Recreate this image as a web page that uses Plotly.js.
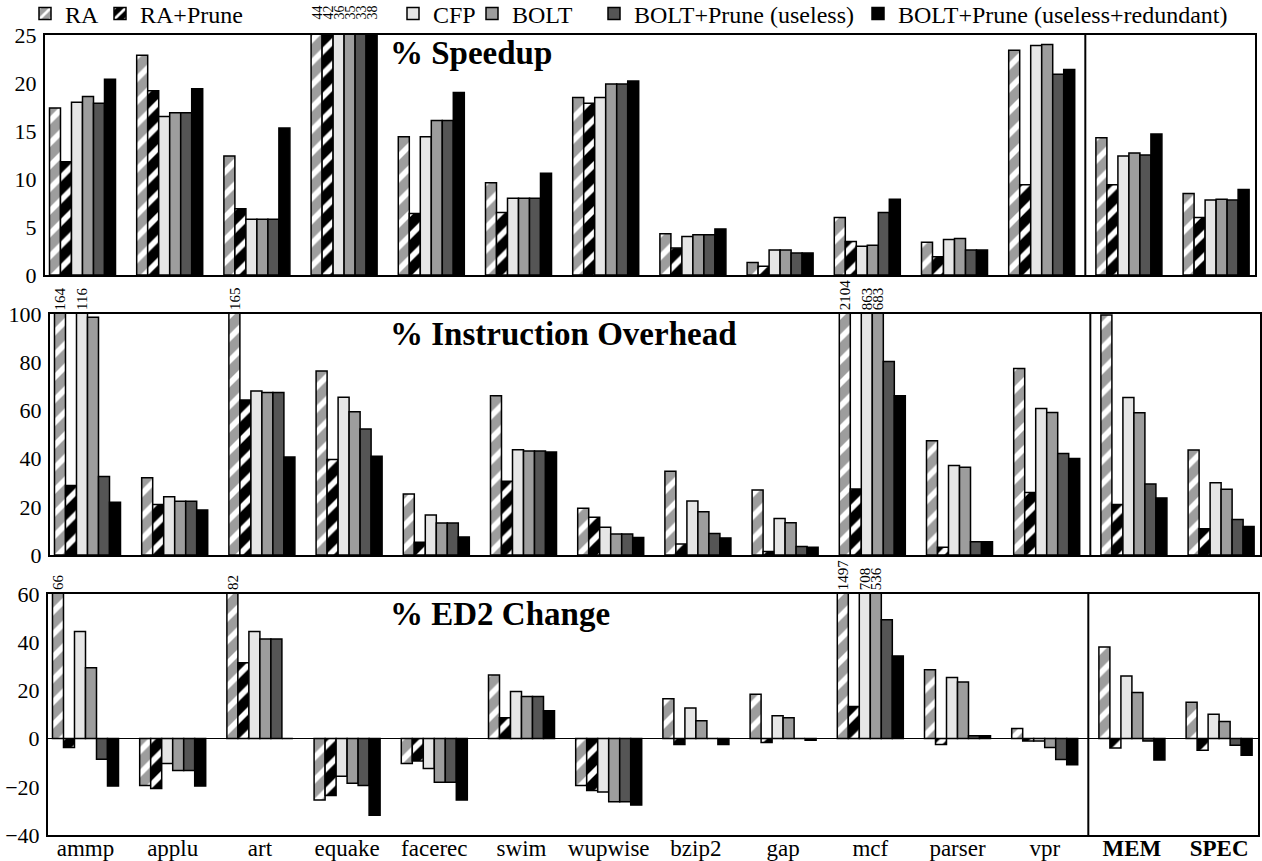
<!DOCTYPE html>
<html>
<head>
<meta charset="utf-8">
<script src="https://cdn.plot.ly/plotly-3.0.1.min.js"></script>
<style>html,body{margin:0;padding:0;background:#fff}#chart{width:1262px;height:861px}</style>
</head>
<body>
<div id="chart"></div>
<script>
// ---------- data ----------
const categories = ['ammp','applu','art','equake','facerec','swim','wupwise','bzip2','gap','mcf','parser','vpr','MEM','SPEC'];
const tickLabels = ['ammp','applu','art','equake','facerec','swim','wupwise','bzip2','gap','mcf','parser','vpr','<b>MEM</b>','<b>SPEC</b>'];
const seriesNames = ['RA','RA+Prune','CFP','BOLT','BOLT+Prune (useless)','BOLT+Prune (useless+redundant)'];

// % Speedup
const speedupRA        = [17.4, 22.9, 12.4, 44, 14.4, 9.6, 18.5, 4.3, 1.3, 6.0, 3.4, 23.4, 14.3, 8.5];
const speedupRAPrune   = [11.8, 19.2, 6.9, 42, 6.4, 6.5, 17.9, 2.8, 0.9, 3.5, 1.9, 9.4, 9.4, 6.0];
const speedupCFP       = [18.0, 16.5, 5.8, 36, 14.4, 8.0, 18.5, 4.0, 2.6, 3.0, 3.7, 23.9, 12.4, 7.8];
const speedupBOLT      = [18.6, 16.9, 5.8, 35, 16.1, 8.0, 19.9, 4.2, 2.6, 3.1, 3.8, 24.0, 12.7, 7.9];
const speedupBOLTPU    = [17.9, 16.9, 5.8, 33, 16.1, 8.0, 19.9, 4.2, 2.3, 6.5, 2.6, 20.9, 12.5, 7.8];
const speedupBOLTPUR   = [20.4, 19.4, 15.3, 38, 19.0, 10.6, 20.2, 4.8, 2.3, 7.9, 2.6, 21.4, 14.7, 8.9];

// % Instruction Overhead
const instrRA          = [164, 32.1, 165, 76.3, 25.3, 66.1, 19.4, 34.8, 27.0, 2104, 47.4, 77.4, 99.6, 43.6];
const instrRAPrune     = [28.8, 21.0, 64.3, 39.6, 5.3, 30.6, 15.7, 4.6, 1.5, 27.4, 3.2, 25.9, 21.0, 10.9];
const instrCFP         = [116, 24.2, 68.1, 65.5, 16.6, 43.7, 11.5, 22.4, 15.1, 863, 37.1, 60.8, 65.4, 30.0];
const instrBOLT        = [98.6, 22.3, 67.4, 59.4, 13.3, 43.2, 8.7, 17.9, 13.4, 683, 36.4, 59.1, 59.0, 27.3];
const instrBOLTPU      = [32.6, 22.3, 67.4, 52.3, 13.3, 43.2, 8.7, 8.9, 3.5, 80.3, 5.5, 42.1, 29.5, 14.7];
const instrBOLTPUR     = [21.9, 18.7, 40.7, 41.0, 7.5, 42.7, 7.3, 7.1, 3.2, 66.1, 5.5, 40.0, 23.7, 11.8];

// % ED2 Change
const ed2RA            = [66, -19.5, 82, -25.5, -10.3, 26.4, -19.5, 16.5, 18.4, 1497, 28.6, 4.2, 38.0, 15.1];
const ed2RAPrune       = [-3.7, -20.7, 31.5, -23.6, -9.3, 8.6, -21.5, -2.4, -1.6, 13.3, -2.4, -1.0, -3.9, -4.8];
const ed2CFP           = [44.4, -10.3, 44.4, -15.6, -12.4, 19.5, -22.2, 12.7, 9.5, 708, 25.4, -1.0, 26.0, 10.1];
const ed2BOLT          = [29.4, -13.2, 41.3, -18.5, -18.1, 17.5, -26.2, 7.4, 8.6, 536, 23.5, -3.7, 19.1, 7.1];
const ed2BOLTPU        = [-8.6, -13.2, 41.3, -19.5, -18.1, 17.5, -26.2, 0, 0, 49.3, 1.2, -8.7, -1.0, -2.8];
const ed2BOLTPUR       = [-19.7, -19.7, 0, -31.8, -25.5, 11.6, -27.6, -2.4, -0.7, 34.3, 1.2, -10.8, -8.9, -6.9];

const panelTitles = ['% Speedup', '% Instruction Overhead', '% ED2 Change'];

// ---------- layout helpers ----------
const W = 1262, H = 861;
const fx = px => px / W;
const fy = py => 1 - py / H;
const BARGAP = 0.243;
const SLOT = (1 - BARGAP) / seriesNames.length;
const XRANGE = [-0.43, 13.446];
const FONT = '"Liberation Serif", "Times New Roman", Times, serif';

const panels = [
  {vals: [speedupRA, speedupRAPrune, speedupCFP, speedupBOLT, speedupBOLTPU, speedupBOLTPUR],
   xa: 'x', ya: 'y', xk: 'xaxis', yk: 'yaxis', yrange: [0, 25], dtick: 5,
   xpx: [45, 1255], ypx: [35, 275], titleY: 53, lblSize: 14, lblShift: 13},
  {vals: [instrRA, instrRAPrune, instrCFP, instrBOLT, instrBOLTPU, instrBOLTPUR],
   xa: 'x2', ya: 'y2', xk: 'xaxis2', yk: 'yaxis2', yrange: [0, 100], dtick: 20,
   xpx: [50, 1260], ypx: [314, 555], titleY: 334, lblSize: 15, lblShift: 2},
  {vals: [ed2RA, ed2RAPrune, ed2CFP, ed2BOLT, ed2BOLTPU, ed2BOLTPUR],
   xa: 'x3', ya: 'y3', xk: 'xaxis3', yk: 'yaxis3', yrange: [-40, 60], dtick: 20,
   xpx: [48, 1258], ypx: [594, 835], titleY: 614, lblSize: 15, lblShift: 2}
];

const styles = [
  {color: '#9d9d9d', hatch: true},
  {color: '#000000', hatch: true},
  {color: '#e6e6e6', hatch: false},
  {color: '#9d9d9d', hatch: false},
  {color: '#555555', hatch: false},
  {color: '#000000', hatch: false}
];

const legendTextX = [65, 140, 433, 512, 634, 898];

const traces = [];
const annotations = [];
const shapes = [];
const layout = {
  width: W, height: H,
  margin: {l: 0, r: 0, t: 0, b: 0, autoexpand: false},
  paper_bgcolor: '#ffffff', plot_bgcolor: '#ffffff',
  barmode: 'group', bargap: BARGAP, bargroupgap: 0,
  font: {family: FONT, color: '#000', size: 22},
  hovermode: false,
  showlegend: true
};

panels.forEach((p, pi) => {
  p.vals.forEach((v, si) => {
    const st = styles[si];
    const marker = {color: st.color, line: {color: '#000', width: 1.5}};
    if (st.hatch) {
      marker.pattern = {shape: '/', fillmode: 'overlay', bgcolor: st.color, fgcolor: '#ffffff',
                        fgopacity: 1, size: 16, solidity: 0.35};
    }
    traces.push({
      type: 'bar', name: seriesNames[si], x: categories, y: v,
      xaxis: p.xa, yaxis: p.ya, marker: marker,
      showlegend: pi === 0, legendgroup: 's' + si,
      legend: si === 0 ? 'legend' : 'legend' + (si + 1)
    });
    // overflow labels
    v.forEach((val, ci) => {
      if (val > p.yrange[1]) {
        annotations.push({
          xref: p.xa, yref: p.ya, x: ci + (si - (seriesNames.length - 1) / 2) * SLOT, y: p.yrange[1],
          text: String(val), textangle: -90, showarrow: false,
          xanchor: 'center', yanchor: 'bottom', yshift: p.lblShift,
          font: {family: FONT, size: p.lblSize, color: '#000'}
        });
      }
    });
  });

  layout[p.xk] = {
    domain: [fx(p.xpx[0]), fx(p.xpx[1])], anchor: p.ya,
    type: 'category', categoryorder: 'array', categoryarray: categories,
    range: XRANGE, tickvals: categories, ticktext: tickLabels,
    showticklabels: pi === 2, ticks: '', showgrid: false, zeroline: false,
    showline: true, mirror: true, linecolor: '#000', linewidth: 2,
    ticklabelstandoff: -9,
    tickfont: {family: FONT, size: 23, color: '#000'}, fixedrange: true
  };
  layout[p.yk] = {
    domain: [fy(p.ypx[1]), fy(p.ypx[0])], anchor: p.xa,
    range: p.yrange, dtick: p.dtick, tick0: 0, ticks: '', showgrid: false,
    zeroline: pi === 2, zerolinecolor: '#000', zerolinewidth: 1.5,
    showline: true, mirror: true, linecolor: '#000', linewidth: 2,
    ticklabelstandoff: 2,
    tickfont: {family: FONT, size: 22, color: '#000'}, fixedrange: true
  };

  // separator between benchmarks and averages
  shapes.push({
    type: 'line', xref: p.xa, yref: p.ya + ' domain',
    x0: categories.indexOf('MEM') - 0.5, x1: categories.indexOf('MEM') - 0.5, y0: 0, y1: 1,
    line: {color: '#000', width: 2}
  });

  annotations.push({
    xref: 'paper', yref: 'paper', x: fx(388), y: fy(p.titleY),
    xanchor: 'left', yanchor: 'middle', showarrow: false,
    text: '<b>' + panelTitles[pi] + '</b>',
    font: {family: FONT, size: 33, color: '#000'}
  });
});

seriesNames.forEach((n, si) => {
  const key = si === 0 ? 'legend' : 'legend' + (si + 1);
  layout[key] = {
    x: fx(legendTextX[si] - 40), xanchor: 'left', y: fy(14), yanchor: 'middle',
    orientation: 'h', bgcolor: 'rgba(0,0,0,0)', borderwidth: 0,
    font: {family: FONT, size: 24, color: '#000'}, itemwidth: 30
  };
});

layout.annotations = annotations;
layout.shapes = shapes;

Plotly.newPlot('chart', traces, layout, {staticPlot: true, displayModeBar: false});
</script>
</body>
</html>
